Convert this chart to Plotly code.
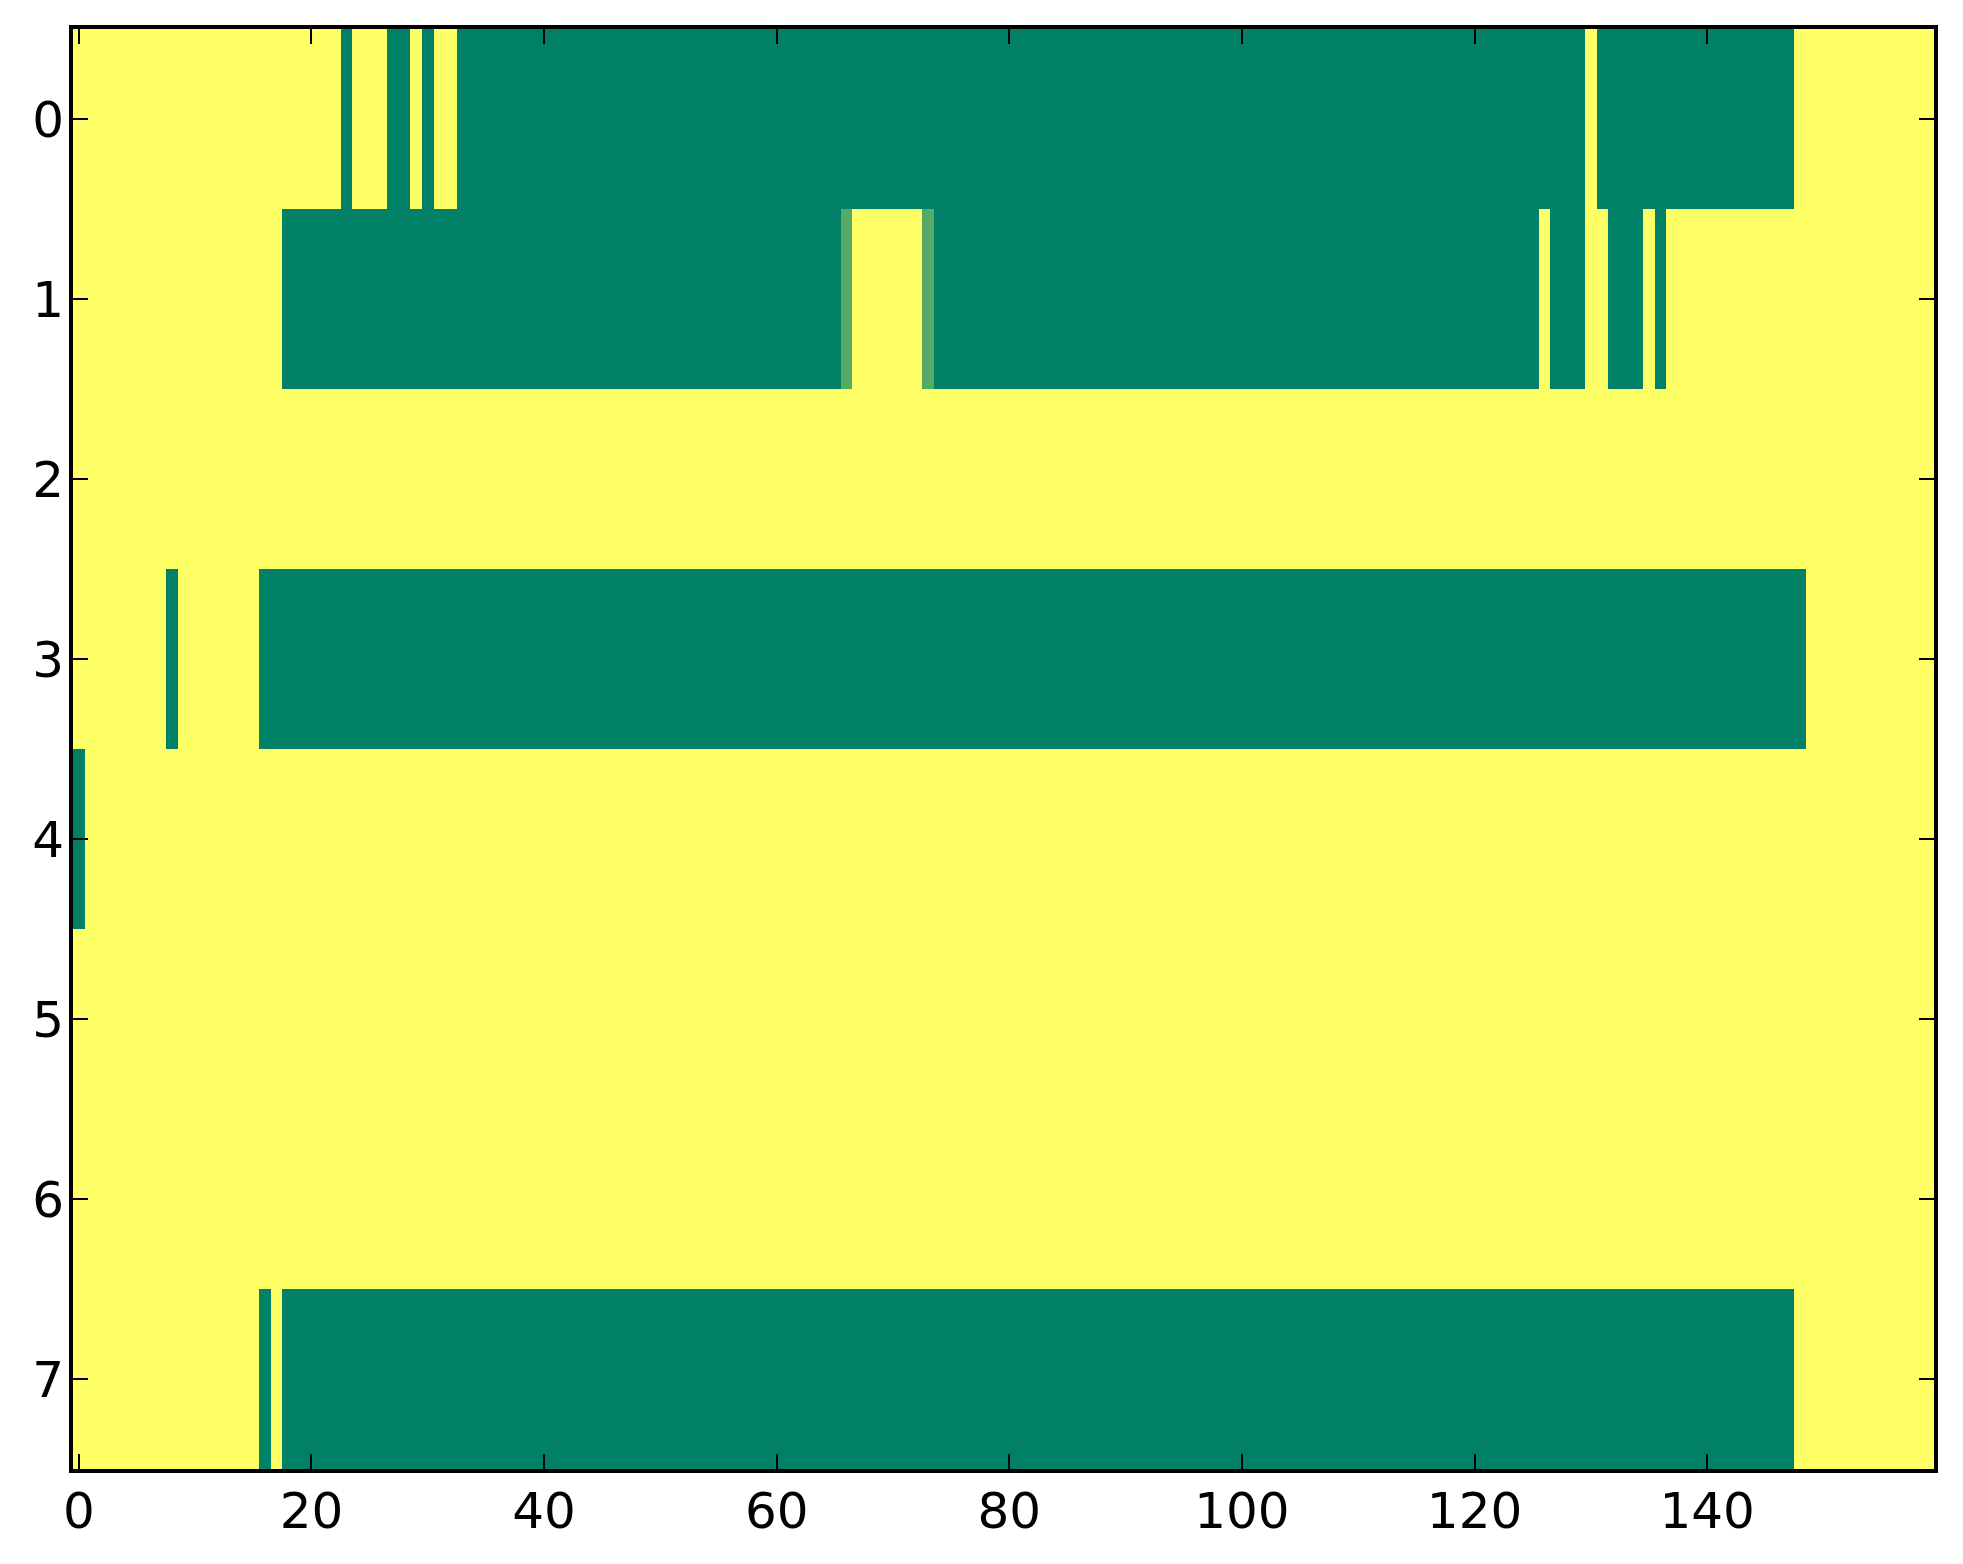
import numpy as np
import plotly.graph_objects as go

n_cols = 160
row_labels = [0, 1, 2, 3, 4, 5, 6, 7]
x_ticks = [0, 20, 40, 60, 80, 100, 120, 140]

# Value spans (start col, end col inclusive, value) per row; all other cells are 1 (yellow)
row0_spans = [(23, 23, 0), (27, 28, 0), (30, 30, 0), (33, 129, 0), (131, 147, 0)]
row1_spans = [(18, 65, 0), (66, 66, 1/3), (73, 73, 1/3), (74, 125, 0), (127, 129, 0),
              (132, 134, 0), (136, 136, 0)]
row2_spans = []
row3_spans = [(8, 8, 0), (16, 148, 0)]
row4_spans = [(0, 0, 0)]
row5_spans = []
row6_spans = []
row7_spans = [(16, 16, 0), (18, 147, 0)]

all_spans = [row0_spans, row1_spans, row2_spans, row3_spans,
             row4_spans, row5_spans, row6_spans, row7_spans]

z = np.ones((len(row_labels), n_cols))
for r, spans in enumerate(all_spans):
    for a, b, v in spans:
        z[r, a:b + 1] = v

fig = go.Figure(go.Heatmap(
    z=z,
    x=list(range(n_cols)),
    y=row_labels,
    zmin=0, zmax=1,
    colorscale=[[0, '#008066'], [1, '#FFFF66']],
    showscale=False,
    hoverinfo='skip',
))

axis_common = dict(
    showline=True, linewidth=4, linecolor='black', mirror='ticks',
    ticks='inside', ticklen=15, tickwidth=1.5, tickcolor='black',
    showgrid=False, zeroline=False, automargin=False,
    ticklabelstandoff=-5,
    tickfont=dict(family='DejaVu Sans', size=50, color='black'),
)

fig.update_xaxes(range=[-0.5, 159.5], tickvals=x_ticks, **axis_common)
fig.update_yaxes(range=[7.5, -0.5], tickvals=row_labels, **axis_common)

fig.update_layout(
    width=1963, height=1564,
    margin=dict(l=65, r=37, t=21, b=103, pad=0),
    paper_bgcolor='white', plot_bgcolor='white',
)

fig.write_html("out.html")
